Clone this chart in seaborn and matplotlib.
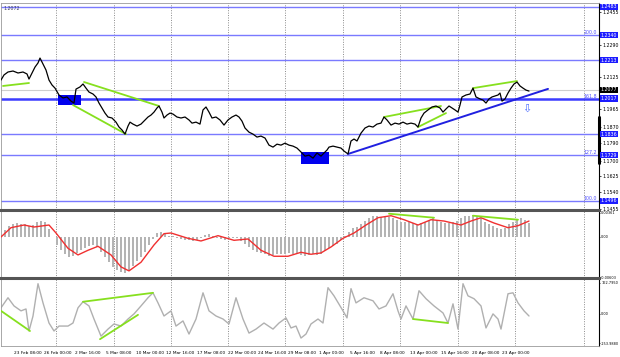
import numpy as np
import pandas as pd
import matplotlib
matplotlib.use("Agg")
import matplotlib.pyplot as plt
import seaborn as sns
from matplotlib.transforms import blended_transform_factory as btf

# ---------------- data ----------------
price_t = [0, 3, 7, 12, 17, 22, 26, 28, 31, 34, 37, 39, 42, 45, 48, 51, 54, 58, 62, 66,
           70, 73, 75, 79, 82, 85, 88, 92, 95, 98, 101, 104, 107, 111, 115, 118, 121, 124, 127, 129,
           132, 136, 140, 144, 147, 150, 153, 156, 158, 161, 163, 166, 169, 172, 176, 180, 184, 188, 191, 195,
           199, 202, 205, 208, 211, 215, 219, 223, 227, 231, 235, 238, 241, 244, 248, 252, 256, 260, 264, 268,
           272, 276, 280, 284, 288, 292, 296, 300, 304, 308, 312, 316, 320, 323, 326, 328, 332, 336, 340, 343,
           347, 350, 353, 356, 360, 364, 368, 372, 376, 380, 383, 386, 390, 394, 398, 402, 406, 410, 414, 417,
           420, 423, 427, 431, 435, 439, 442, 445, 448, 451, 454, 457, 459, 461, 465, 469, 472, 475, 479, 482,
           485, 488, 491, 494, 497, 499, 501, 504, 507, 510, 513, 516, 519, 522, 525, 528]
price_close = [1.2111, 1.2137, 1.2152, 1.2157, 1.2147, 1.2152, 1.2142, 1.2116, 1.2147, 1.2177,
               1.2198, 1.2223, 1.2193, 1.2162, 1.2111, 1.2086, 1.2070, 1.2035, 1.2020, 1.2025,
               1.2004, 1.1994, 1.2065, 1.2076, 1.2091, 1.2070, 1.2050, 1.2040, 1.2025, 1.1994,
               1.1969, 1.1943, 1.1923, 1.1918, 1.1897, 1.1872, 1.1857, 1.1836, 1.1877, 1.1897,
               1.1887, 1.1877, 1.1887, 1.1908, 1.1923, 1.1933, 1.1948, 1.1969, 1.1979, 1.1948,
               1.1918, 1.1933, 1.1943, 1.1938, 1.1923, 1.1918, 1.1923, 1.1908, 1.1892, 1.1897,
               1.1887, 1.1959, 1.1974, 1.1948, 1.1918, 1.1923, 1.1908, 1.1882, 1.1908, 1.1923,
               1.1933, 1.1923, 1.1902, 1.1867, 1.1846, 1.1836, 1.1821, 1.1826, 1.1816, 1.1780,
               1.1770, 1.1785, 1.1780, 1.1790, 1.1780, 1.1775, 1.1765, 1.1745, 1.1724, 1.1729,
               1.1714, 1.1740, 1.1724, 1.1740, 1.1755, 1.1770, 1.1775, 1.1770, 1.1765, 1.1750,
               1.1735, 1.1801, 1.1811, 1.1801, 1.1841, 1.1867, 1.1877, 1.1872, 1.1887, 1.1892,
               1.1923, 1.1908, 1.1882, 1.1892, 1.1887, 1.1897, 1.1887, 1.1892, 1.1887, 1.1872,
               1.1918, 1.1943, 1.1959, 1.1974, 1.1979, 1.1969, 1.1948, 1.1964, 1.1979, 1.1969,
               1.1959, 1.1948, 1.1984, 1.2025, 1.2035, 1.2040, 1.2070, 1.2025, 1.2015, 1.2009,
               1.1994, 1.2015, 1.2025, 1.2030, 1.2035, 1.2045, 1.2004, 1.2015, 1.2045, 1.2070,
               1.2091, 1.2101, 1.2081, 1.2070, 1.2060, 1.2055]

macd_hist = [0.0003, 0.0010, 0.0016, 0.0019, 0.0021, 0.0020, 0.0019, 0.0017, 0.0018, 0.0022,
             0.0024, 0.0022, 0.0012, 0.0000, -0.0012, -0.0020, -0.0026, -0.0030, -0.0029, -0.0024,
             -0.0019, -0.0016, -0.0013, -0.0012, -0.0015, -0.0022, -0.0030, -0.0038, -0.0045, -0.0050,
             -0.0053, -0.0054, -0.0050, -0.0043, -0.0036, -0.0030, -0.0022, -0.0012, -0.0003, 0.0006,
             0.0008, 0.0004, 0.0001, 0.0002, -0.0001, -0.0003, -0.0004, -0.0005, -0.0006, -0.0005,
             -0.0002, 0.0003, 0.0004, 0.0002, -0.0001, -0.0003, -0.0004, -0.0002, -0.0001, -0.0002,
             -0.0006, -0.0011, -0.0015, -0.0019, -0.0022, -0.0024, -0.0026, -0.0028, -0.0027, -0.0026,
             -0.0025, -0.0025, -0.0024, -0.0025, -0.0026, -0.0027, -0.0028, -0.0027, -0.0026, -0.0027,
             -0.0025, -0.0021, -0.0016, -0.0013, -0.0010, -0.0004, 0.0002, 0.0008, 0.0013, 0.0015,
             0.0019, 0.0024, 0.0029, 0.0032, 0.0031, 0.0030, 0.0031, 0.0030, 0.0028, 0.0025,
             0.0023, 0.0022, 0.0022, 0.0021, 0.0020, 0.0021, 0.0022, 0.0025, 0.0028, 0.0026,
             0.0023, 0.0021, 0.0021, 0.0022, 0.0024, 0.0029, 0.0031, 0.0032, 0.0033, 0.0031,
             0.0028, 0.0023, 0.0019, 0.0016, 0.0014, 0.0012, 0.0014, 0.0019, 0.0023, 0.0027,
             0.0028, 0.0025, 0.0021]
hist_step = 4

signal_t = [0, 10, 23, 33, 48, 55, 67, 77, 87, 97, 110, 120, 128, 140, 153, 163, 170, 187, 200, 217,
            233, 247, 260, 273, 287, 300, 310, 320, 330, 342, 353, 365, 377, 390, 403, 417, 430, 443, 460, 470,
            480, 493, 507, 517, 528]
signal_v = [0.0000, 0.0014, 0.0018, 0.0015, 0.0018, 0.0006, -0.0017, -0.0027, -0.0020, -0.0014,
            -0.0027, -0.0045, -0.0051, -0.0038, -0.0012, 0.0005, 0.0006, -0.0002, -0.0006, 0.0002,
            -0.0005, -0.0003, -0.0020, -0.0029, -0.0029, -0.0023, -0.0026, -0.0024, -0.0015, -0.0002,
            0.0006, 0.0018, 0.0029, 0.0032, 0.0026, 0.0018, 0.0026, 0.0024, 0.0018, 0.0024,
            0.0029, 0.0021, 0.0014, 0.0017, 0.0024]

cci_t = [0, 7, 13, 20, 25, 28, 32, 37, 42, 48, 53, 58, 67, 72, 77, 82, 88, 93, 100, 107,
         113, 120, 127, 133, 140, 147, 152, 157, 163, 170, 175, 182, 188, 195, 202, 208, 215, 222, 228, 235,
         242, 248, 255, 263, 272, 278, 285, 290, 295, 300, 305, 310, 317, 322, 327, 333, 342, 346, 350, 355,
         363, 372, 378, 385, 392, 397, 400, 405, 412, 418, 425, 433, 442, 447, 452, 457, 462, 467, 473, 480,
         485, 492, 497, 500, 507, 512, 517, 523, 528]
cci_v = [32, 85, 42, 16, 26, -90, -11, 159, 58, -48,
         -90, -64, -64, -48, 32, 64, 42, -27, -117, -80,
         -53, -64, -27, 0, 42, 85, 111, 58, -11, 16,
         -64, -37, -106, -27, 111, 16, -11, -27, -53, 85,
         -27, -101, -80, -48, -80, -48, -21, -74, -64, -127,
         -106, -53, -27, -48, 138, 95, 16, -21, 133, 58,
         85, 69, 26, 42, 106, 16, -27, 42, -27, 122,
         80, 42, 5, -48, 53, -80, 159, 95, 80, 42,
         -74, 0, -27, -80, 106, 111, 58, 16, -11]

# horizontal levels and their labels
level_prices = [1.2483, 1.2340, 1.2213, 1.2017, 1.1836, 1.1729, 1.1496]
level_labels = ["1.2483", "1.2340", "1.2213", "1.2017", "1.1836", "1.1729", "1.1496"]
fibo_prices = [1.2340, 1.2017, 1.1729, 1.1496]
fibo_labels = ["200.0", "161.8", "127.2", "100.0"]
current_price = 1.2062
current_label = "1.2077"
price_ticks = [1.2455, 1.2290, 1.2125, 1.1965, 1.1870, 1.1790, 1.1700, 1.1625, 1.1540, 1.1455]

# annotations (time, price)
trend_t = [347, 547]
trend_p = [1.1735, 1.2066]
green_main = [([2, 28], [1.2081, 1.2096]),
              ([83, 158], [1.2101, 1.1979]),
              ([72, 125], [1.1984, 1.1836]),
              ([383, 440], [1.1923, 1.1979]),
              ([417, 445], [1.1872, 1.1943]),
              ([472, 516], [1.2070, 1.2106])]
boxes = [((57, 80), (1.1984, 1.2035)), ((300, 328), (1.1684, 1.1745))]
green_macd = [([388, 433], [0.0035, 0.0029]), ([472, 517], [0.0032, 0.0026])]
green_cci = [([0, 29], [16, -90]), ([82, 152], [64, 111]), ([99, 137], [-133, -5]), ([412, 447], [-27, -48])]

grid_t = [55, 113, 170, 227, 284, 342, 399, 457, 514, 583]
time_ticks = [-17.5, 13, 43.5, 74, 104.5, 135, 165.5, 196, 226.5, 257, 287.5, 318, 348.5, 379, 409.5, 440, 470.5, 501]
time_labels = ["18 Feb 16:00", "23 Feb 08:00", "26 Feb 00:00", "2 Mar 16:00", "5 Mar 08:00", "10 Mar 00:00",
               "12 Mar 16:00", "17 Mar 08:00", "22 Mar 00:00", "24 Mar 16:00", "29 Mar 08:00", "1 Apr 00:00",
               "5 Apr 16:00", "8 Apr 08:00", "13 Apr 00:00", "15 Apr 16:00", "20 Apr 08:00", "23 Apr 00:00"]

# ---------------- figure ----------------
sns.set_theme(style="white")
plt.rcParams["font.family"] = ["DejaVu Sans"]

W, H = 620, 357
fig = plt.figure(figsize=(6.2, 3.57), dpi=100)
fig.patch.set_facecolor("white")


def px_axes(x0, y0, x1, y1):
    return fig.add_axes([x0 / W, 1 - y1 / H, (x1 - x0) / W, (y1 - y0) / H])


ax1 = px_axes(1, 3, 599, 210)
ax2 = px_axes(1, 210, 599, 278)
ax3 = px_axes(1, 278, 599, 346)

FS = 3.4
FSS = 2.5
FSX = 3.1
LEVEL_C = "#7a7aff"
BOX_C = "#1c1cff"
GREEN = "#86e01e"

for ax in (ax1, ax2, ax3):
    ax.set_xlim(0, 598)
    ax.set_facecolor("white")
    for s in ("left", "bottom", "top"):
        ax.spines[s].set_color("#9a9a9a")
        ax.spines[s].set_linewidth(0.6)
    ax.spines["right"].set_color("black")
    ax.spines["right"].set_linewidth(0.8)
    for g in grid_t:
        ax.axvline(g, color="#8a8a8a", ls=(0, (1, 1.5)), lw=0.7, zorder=0)
    ax.yaxis.tick_right()
    ax.tick_params(axis="x", which="both", length=0)

ax1.tick_params(axis="y", labelsize=FS, length=1.5, width=0.5, pad=1.0, colors="black")
for ax in (ax2, ax3):
    ax.tick_params(axis="y", labelsize=FSS, length=1.0, width=0.5, pad=0.6, colors="black")
    ax.spines["top"].set_color("#555555")
    ax.spines["top"].set_linewidth(2.2)

# ---- main price panel ----
ax1.set_ylim(1.1450, 1.2503)
for p in level_prices:
    lw = 1.8 if p == 1.2017 else 1.0
    col = "#3c3cff" if p == 1.2017 else LEVEL_C
    ax1.axhline(p, color=col, lw=lw, zorder=1)
ax1.axhline(current_price, color="#cfcfcf", lw=0.8, zorder=1)

for (t0, t1), (p0, p1) in boxes:
    ax1.fill_between([t0, t1], [p0, p0], [p1, p1], color="#0000ee", lw=0, zorder=2)

price_df = pd.DataFrame({"t": price_t, "close": price_close})
sns.lineplot(data=price_df, x="t", y="close", ax=ax1, color="black", lw=0.9,
             estimator=None, sort=False, zorder=4)

ax1.plot(trend_t, trend_p, color="#2020e0", lw=1.4, zorder=3)
for ts, ps in green_main:
    ax1.plot(ts, ps, color=GREEN, lw=1.3, zorder=3)

ax1.text(526, 1.1964, "\u21e9", ha="center", va="center", fontsize=8, color="#4a6aff", zorder=5)

ax1.set_yticks(price_ticks)
ax1.set_yticklabels([f"{v:.4f}" for v in price_ticks])
ax1.set_xticks([])
ax1.set_xlabel("")
ax1.set_ylabel("")

tr = btf(ax1.transAxes, ax1.transData)
for p, lab in zip(level_prices, level_labels):
    ax1.text(1.003, p, lab, transform=tr, ha="left", va="center", fontsize=FS, color="white",
             bbox=dict(boxstyle="square,pad=0.12", fc=BOX_C, ec="none"), zorder=10, clip_on=False)
ax1.text(1.003, current_price, current_label, transform=tr, ha="left", va="center", fontsize=FS,
         color="white", bbox=dict(boxstyle="square,pad=0.12", fc="black", ec="none"), zorder=10, clip_on=False)
for p, lab in zip(fibo_prices, fibo_labels):
    ax1.text(0.997, p, lab, transform=tr, ha="right", va="bottom", fontsize=FS, color="#5050ff")
ax1.plot([1.0, 1.0], [1.1923, 1.1689], transform=tr, color="black", lw=2.2, clip_on=False, zorder=9)
ax1.text(0.004, 0.985, "1.2072", transform=ax1.transAxes, ha="left", va="top", fontsize=FS, color="#3a3a5a")

# ---- MACD panel ----
ax2.set_ylim(-0.00617, 0.00406)
hist_t = np.arange(len(macd_hist)) * hist_step
ax2.bar(hist_t, macd_hist, width=2.3, color="#b4b4b4", lw=0, zorder=1)
sig_df = pd.DataFrame({"t": signal_t, "v": signal_v})
sns.lineplot(data=sig_df, x="t", y="v", ax=ax2, color="#f03030", lw=1.0, estimator=None, sort=False, zorder=3)
for ts, vs in green_macd:
    ax2.plot(ts, vs, color=GREEN, lw=1.3, zorder=4)
ax2.set_yticks([0.00361, 0.0, -0.00603])
ax2.set_yticklabels(["0.00361", "0.00", "-0.00603"])
ax2.set_xticks([])
ax2.set_xlabel("")
ax2.set_ylabel("")

# ---- CCI panel ----
ax3.set_ylim(-169, 189)
cci_df = pd.DataFrame({"t": cci_t, "v": cci_v})
sns.lineplot(data=cci_df, x="t", y="v", ax=ax3, color="#b0b0b0", lw=1.0, estimator=None, sort=False, zorder=2)
for ts, vs in green_cci:
    ax3.plot(ts, vs, color=GREEN, lw=1.3, zorder=3)
ax3.set_yticks([162.795, 0.0, -153.988])
ax3.set_yticklabels(["162.7950", "0.00", "-153.9880"])
ax3.set_xticks(time_ticks)
ax3.set_xticklabels(time_labels)
ax3.tick_params(axis="x", labelsize=FSX, length=2, width=0.5, pad=1.5, colors="black", direction="out")
for lab in ax3.get_xticklabels():
    lab.set_ha("left")
ax3.set_xlim(0, 598)
ax3.set_xlabel("")
ax3.set_ylabel("")

fig.savefig("out.png", dpi=100, facecolor="white")
